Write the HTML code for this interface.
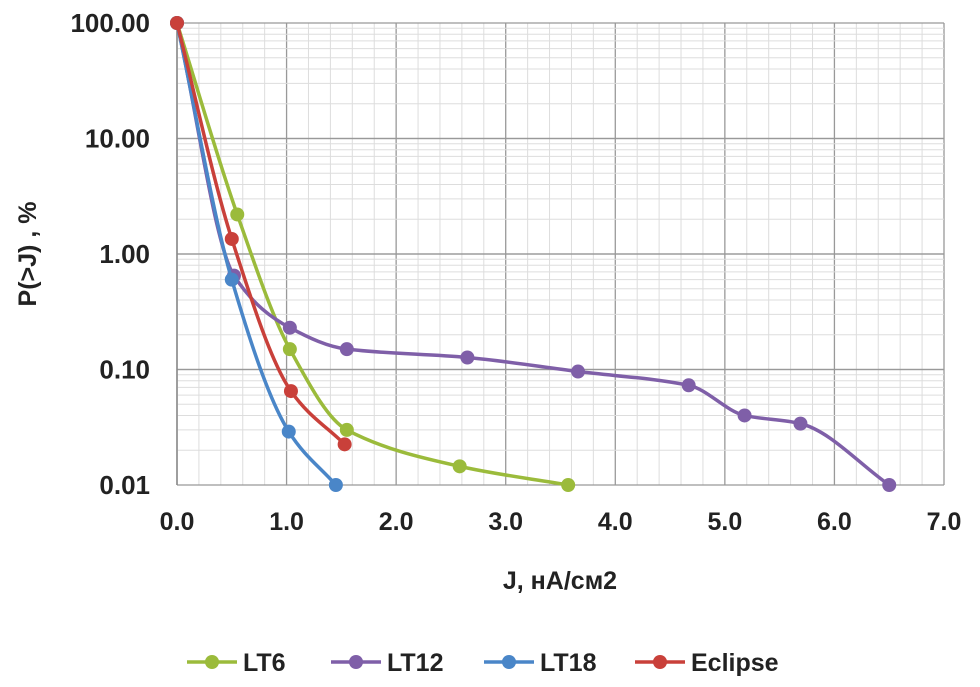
<!DOCTYPE html>
<html><head><meta charset="utf-8"><style>
body{margin:0;background:#fff;}
svg text{font-family:"Liberation Sans",sans-serif;font-weight:bold;fill:#222;}
</style></head><body>
<svg id="chart" width="980" height="682">
<g id="grid"></g>
<g id="axes"></g>
<g id="series"></g>
<text x="560" y="589" font-size="25" text-anchor="middle">J, нА/см2</text>
<text transform="translate(36,254) rotate(-90)" font-size="25" text-anchor="middle">P(&gt;J) , %</text>
<g id="legend"></g>
</svg>
<script>
const seriesNames = ["LT6","LT12","LT18","Eclipse"];
const colors = ["#9bbb3b","#7f5fa8","#4a86c8","#c9403a"];
const lt6X = [0,0.55,1.03,1.55,2.58,3.57];
const lt6Y = [100,2.2,0.15,0.03,0.0145,0.01];
const lt12X = [0,0.52,1.03,1.55,2.65,3.66,4.67,5.18,5.69,6.5];
const lt12Y = [100,0.65,0.23,0.15,0.127,0.096,0.073,0.04,0.034,0.01];
const lt18X = [0,0.5,1.02,1.45];
const lt18Y = [100,0.6,0.029,0.01];
const eclX = [0,0.5,1.04,1.53];
const eclY = [100,1.35,0.065,0.0225];
const xTicks = ["0.0","1.0","2.0","3.0","4.0","5.0","6.0","7.0"];
const yTicks = ["0.01","0.10","1.00","10.00","100.00"];
const X0=177,X1=944,Y0=485,Y1=23;
const sx=v=>X0+v/7*(X1-X0);
const sy=v=>Y0-(Math.log10(v)+2)/4*(Y0-Y1);
const NS="http://www.w3.org/2000/svg";
function mk(tag,attrs,parent){const e=document.createElementNS(NS,tag);for(const k in attrs)e.setAttribute(k,attrs[k]);parent.appendChild(e);return e;}
const grid=document.getElementById('grid'),axes=document.getElementById('axes'),ser=document.getElementById('series'),leg=document.getElementById('legend');
for(let i=0;i<=35;i++){const x=sx(i*0.2);const l=mk('line',{x1:x,x2:x,y1:Y1,y2:Y0,stroke:i%5==0?'#999':'#ddd','stroke-width':i%5==0?1.3:1},grid);

}
for(let d=-2;d<2;d++){for(let m=1;m<=10;m++){const y=sy(m*Math.pow(10,d));const l=mk('line',{x1:X0,x2:X1,y1:y,y2:y,stroke:(m==1||m==10)?'#999':'#ddd','stroke-width':(m==1||m==10)?1.3:1},grid);

}}
const ax=mk('line',{x1:X0,x2:X0,y1:Y1,y2:Y0,stroke:'#888','stroke-width':1.5},axes);


xTicks.forEach((t,i)=>{const e=mk('text',{x:sx(+t),y:Y0+45,'font-size':25,'text-anchor':'middle'},axes);e.textContent=t;

});
yTicks.forEach(t=>{const e=mk('text',{x:150,y:sy(+t)+9,'font-size':26,'text-anchor':'end'},axes);e.textContent=t;

});
function path(px,py){const n=px.length,dl=[],m=[];
for(let i=0;i<n-1;i++)dl.push((py[i+1]-py[i])/(px[i+1]-px[i]));
m[0]=dl[0];m[n-1]=dl[n-2];
for(let i=1;i<n-1;i++){m[i]=(dl[i-1]*dl[i]<=0)?0:2/(1/dl[i-1]+1/dl[i]);}
let d=`M${px[0]},${py[0]}`;
for(let i=0;i<n-1;i++){const h=(px[i+1]-px[i])/3;
d+=` C${px[i]+h},${py[i]+m[i]*h} ${px[i+1]-h},${py[i+1]-m[i+1]*h} ${px[i+1]},${py[i+1]}`;}return d;}
const all=[[lt6X,lt6Y],[lt12X,lt12Y],[lt18X,lt18Y],[eclX,eclY]];
all.forEach(([xs,ys],k)=>{const px=xs.map(sx),py=ys.map(sy);
const p=mk('path',{d:path(px,py),fill:'none',stroke:colors[k],'stroke-width':3.5},ser);


px.forEach((x,i)=>{const c=mk('circle',{cx:x,cy:py[i],r:7,fill:colors[k]},ser);

});});
const lx=[187,331,484,635];
seriesNames.forEach((n,k)=>{const x=lx[k],y=662;
const l=mk('line',{x1:x,x2:x+50,y1:y,y2:y,stroke:colors[k],'stroke-width':3.5},leg);


const c=mk('circle',{cx:x+25,cy:y,r:7,fill:colors[k]},leg);


const t=mk('text',{x:x+56,y:y+9,'font-size':25},leg);t.textContent=n;

});
</script>
</body></html>
